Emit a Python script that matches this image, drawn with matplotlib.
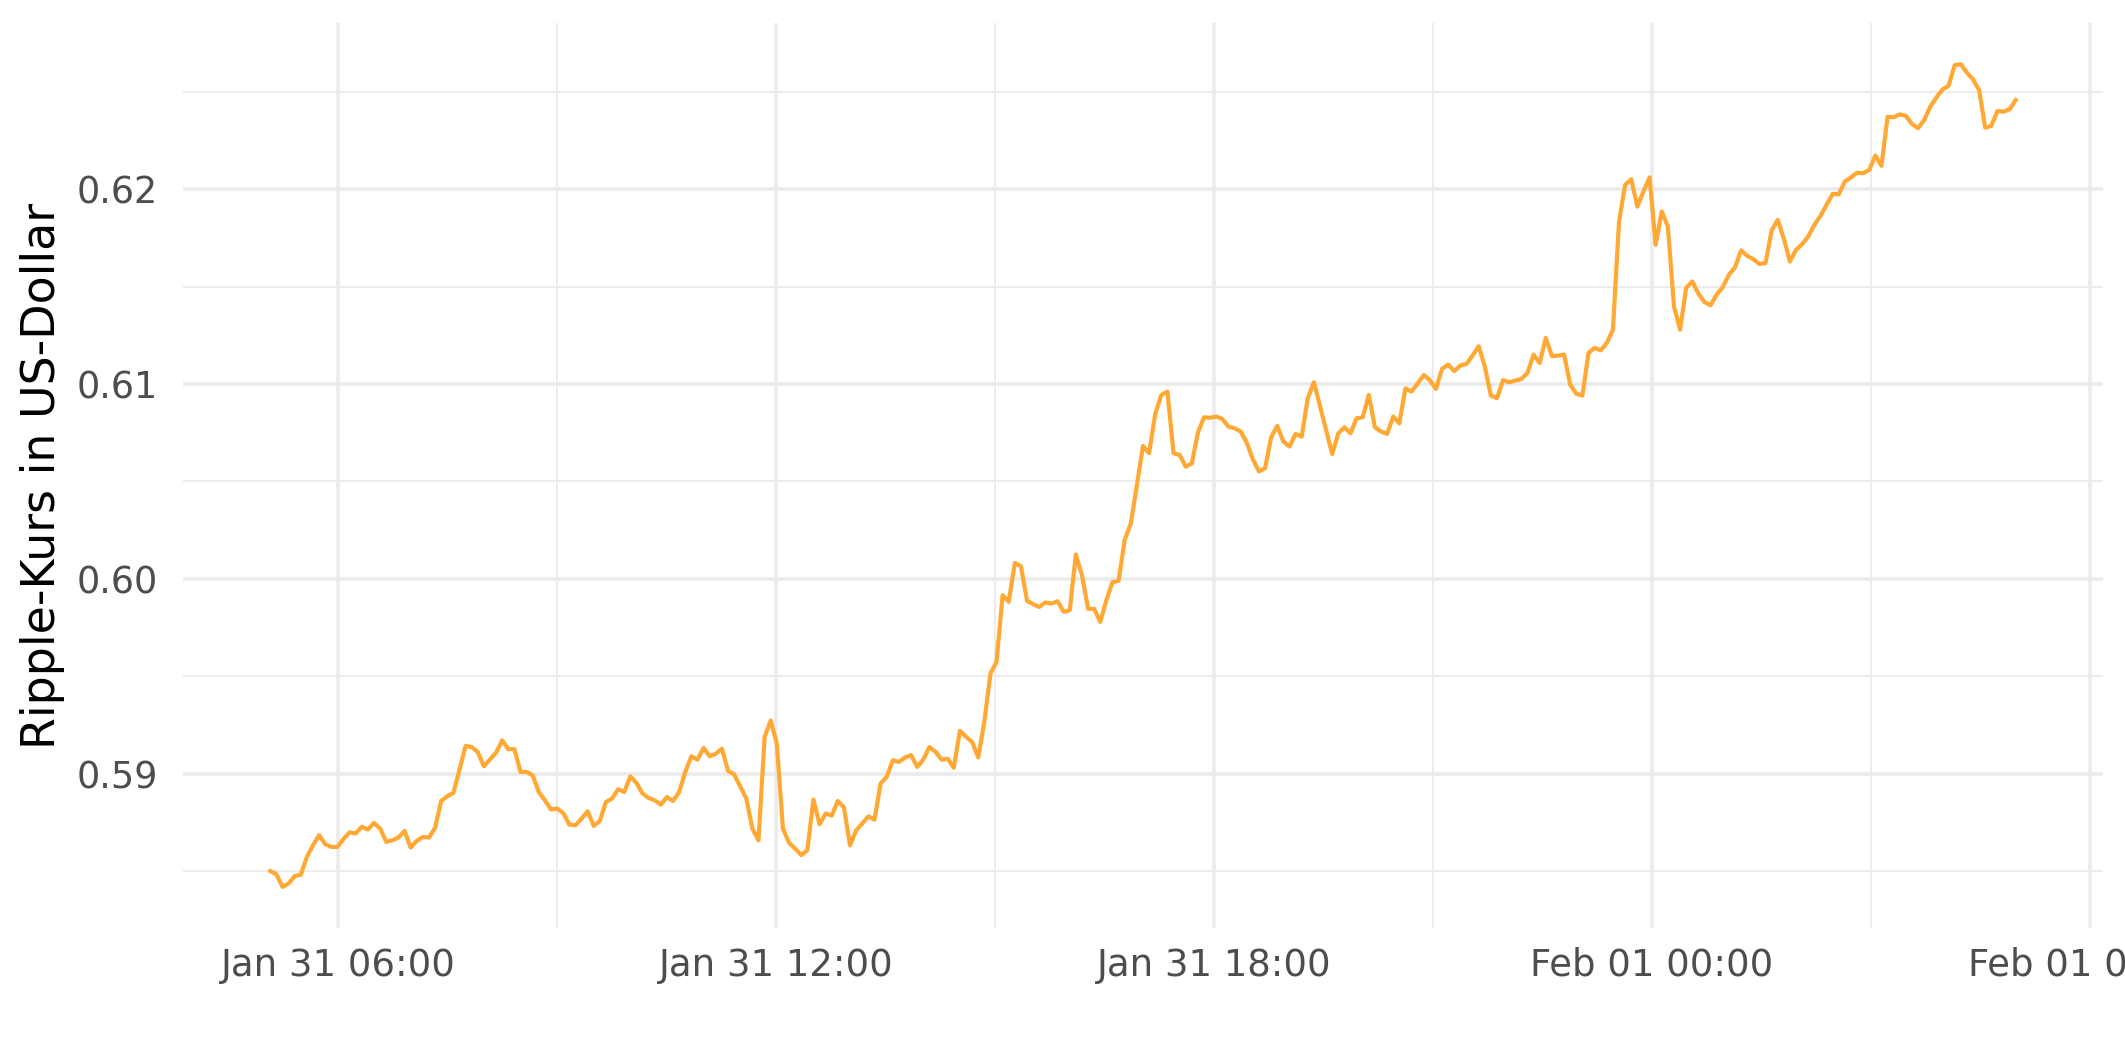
"""Ripple (XRP) price over 24 hours, 5-minute steps."""

import matplotlib
matplotlib.use("Agg")
import matplotlib.pyplot as plt
import matplotlib.dates as mdates
from matplotlib.ticker import MultipleLocator, FormatStrFormatter
import pandas as pd

# time range of the series (5-minute steps)
start_time = "2022-01-31 05:04"
end_time = "2022-02-01 04:59"

# price in USD
price = [
    0.58500, 0.58484, 0.58419, 0.58436, 0.58474, 0.58481, 0.58573, 0.58633, 0.58684, 0.58638,
    0.58624, 0.58624, 0.58665, 0.58699, 0.58693, 0.58727, 0.58713, 0.58747, 0.58718, 0.58650,
    0.58658, 0.58672, 0.58706, 0.58621, 0.58655, 0.58675, 0.58672, 0.58722, 0.58860, 0.58884,
    0.58901, 0.59020, 0.59142, 0.59137, 0.59111, 0.59038, 0.59073, 0.59108, 0.59171, 0.59126,
    0.59126, 0.59009, 0.59009, 0.58991, 0.58906, 0.58863, 0.58816, 0.58821, 0.58798,
    0.58739, 0.58735, 0.58769, 0.58807, 0.58732, 0.58757, 0.58855, 0.58872, 0.58920, 0.58906,
    0.58986, 0.58952, 0.58898, 0.58875, 0.58863, 0.58841, 0.58880, 0.58860, 0.58906, 0.59009,
    0.59089, 0.59072, 0.59132, 0.59089, 0.59102, 0.59128, 0.59014, 0.58997, 0.58935, 0.58872,
    0.58718, 0.58658, 0.59188, 0.59273, 0.59154, 0.58718, 0.58645, 0.58616, 0.58582, 0.58607,
    0.58867, 0.58740, 0.58795, 0.58785, 0.58860, 0.58826,
    0.58632, 0.58709, 0.58744, 0.58781, 0.58764, 0.58949, 0.58983, 0.59069, 0.59060, 0.59083,
    0.59095, 0.59035, 0.59072, 0.59137, 0.59112, 0.59072, 0.59076, 0.59031, 0.59220, 0.59189,
    0.59163, 0.59083, 0.59266, 0.59514, 0.59574, 0.59916, 0.59882, 0.60082, 0.60065, 0.59887,
    0.59870, 0.59856, 0.59879, 0.59873, 0.59885, 0.59831, 0.59839, 0.60125, 0.60019, 0.59846,
    0.59846, 0.59779, 0.59891, 0.59983, 0.59990, 0.60199, 0.60284, 0.60481, 0.60682,
    0.60645, 0.60846, 0.60944, 0.60961, 0.60645, 0.60636, 0.60576, 0.60593, 0.60751, 0.60829,
    0.60827, 0.60833, 0.60821, 0.60781, 0.60773, 0.60756, 0.60699, 0.60614, 0.60551, 0.60568,
    0.60727, 0.60785, 0.60705, 0.60679, 0.60744, 0.60730, 0.60927, 0.61009, 0.60887, 0.60764,
    0.60641, 0.60747, 0.60778, 0.60747, 0.60824, 0.60829, 0.60944, 0.60778, 0.60756, 0.60744,
    0.60833, 0.60798, 0.60978, 0.60961, 0.61003, 0.61046, 0.61020,
    0.60975, 0.61078, 0.61100, 0.61066, 0.61095, 0.61103, 0.61146, 0.61194, 0.61091, 0.60941,
    0.60927, 0.61020, 0.61009, 0.61018, 0.61026, 0.61057, 0.61151, 0.61108, 0.61237, 0.61143,
    0.61146, 0.61151, 0.60997, 0.60950, 0.60941, 0.61160, 0.61185, 0.61173, 0.61211, 0.61279,
    0.61834, 0.62022, 0.62051, 0.61911, 0.61988, 0.62061, 0.61715, 0.61886, 0.61809, 0.61399,
    0.61279, 0.61493, 0.61527, 0.61464, 0.61421, 0.61404, 0.61459,
    0.61498, 0.61561, 0.61599, 0.61686, 0.61658, 0.61641, 0.61616, 0.61621, 0.61788, 0.61843,
    0.61746, 0.61629, 0.61689, 0.61718, 0.61757, 0.61817, 0.61863, 0.61920, 0.61976, 0.61974,
    0.62039, 0.62060, 0.62085, 0.62082, 0.62099, 0.62173, 0.62120, 0.62372, 0.62369, 0.62384,
    0.62377, 0.62335, 0.62313, 0.62355, 0.62424, 0.62471, 0.62512, 0.62531, 0.62637, 0.62642,
    0.62598, 0.62564, 0.62509, 0.62316, 0.62325, 0.62401, 0.62398, 0.62410, 0.62458,
]

times = pd.date_range(start_time, end_time, periods=len(price))

line_color = "#FFA834"
grid_color = "#EBEBEB"
text_grey = "#4D4D4D"

plt.rcParams["font.family"] = "DejaVu Sans"

W, H, DPI = 2125, 1062, 300
fig = plt.figure(figsize=(W / DPI, H / DPI), dpi=DPI)
ax = fig.add_axes([183 / W, 1 - 928 / H, (2103 - 183) / W, (928 - 23) / H])

ax.plot(times, price, color=line_color, linewidth=1.0)
ax.margins(x=0.05, y=0.05)

# axes / grid in the style of theme_minimal
ax.xaxis.set_major_locator(mdates.HourLocator(byhour=[0, 6, 12, 18]))
ax.xaxis.set_minor_locator(mdates.HourLocator(byhour=[3, 9, 15, 21]))
ax.xaxis.set_major_formatter(mdates.DateFormatter("%b %d %H:%M"))
ax.yaxis.set_major_locator(MultipleLocator(0.01))
ax.yaxis.set_minor_locator(MultipleLocator(0.005))
ax.yaxis.set_major_formatter(FormatStrFormatter("%.2f"))

ax.grid(which="major", color=grid_color, linewidth=0.85)
ax.grid(which="minor", color=grid_color, linewidth=0.45)
ax.set_axisbelow(True)
for s in ax.spines.values():
    s.set_visible(False)

ax.tick_params(which="both", length=0)
ax.tick_params(axis="x", labelsize=8.9, labelcolor=text_grey, pad=4.5)
ax.tick_params(axis="y", labelsize=8.8, labelcolor=text_grey, pad=6)

ax.set_ylabel("Ripple-Kurs in US-Dollar", fontsize=11, color="black", labelpad=2.75)

fig.savefig("out.png", dpi=DPI)
